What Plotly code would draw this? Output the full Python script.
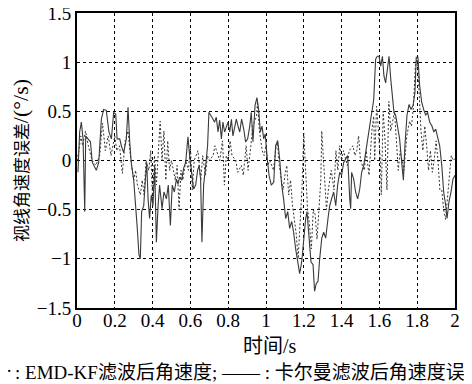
import plotly.graph_objects as go

# Kalman filtered angular-rate error (solid line)
t_kf = [0.005, 0.014, 0.023, 0.032, 0.041, 0.046, 0.058, 0.071, 0.081, 0.102, 0.115, 0.129, 0.141, 0.155,
        0.169, 0.182, 0.194, 0.205, 0.212, 0.226, 0.236, 0.247, 0.261, 0.270, 0.279, 0.287, 0.300, 0.310,
        0.319, 0.328, 0.335, 0.342, 0.353, 0.362, 0.369, 0.376, 0.384, 0.393, 0.402, 0.411, 0.420, 0.429,
        0.437, 0.450, 0.460, 0.473, 0.483, 0.494, 0.504, 0.515, 0.526, 0.534, 0.543, 0.554, 0.564, 0.575,
        0.587, 0.596, 0.605, 0.617, 0.628, 0.638, 0.646, 0.654, 0.661, 0.670, 0.681, 0.691, 0.698, 0.709,
        0.720, 0.728, 0.737, 0.746, 0.755, 0.764, 0.772, 0.781, 0.790, 0.799, 0.808, 0.817, 0.825, 0.834,
        0.843, 0.852, 0.861, 0.871, 0.882, 0.892, 0.903, 0.914, 0.922, 0.931, 0.942, 0.952, 0.961, 0.970,
        0.979, 0.988, 0.996, 1.005, 1.016, 1.028, 1.041, 1.051, 1.062, 1.072, 1.083, 1.093, 1.104, 1.115,
        1.125, 1.136, 1.146, 1.157, 1.168, 1.178, 1.189, 1.199, 1.210, 1.217, 1.228, 1.238, 1.249, 1.257,
        1.266, 1.275, 1.284, 1.295, 1.305, 1.316, 1.328, 1.337, 1.347, 1.358, 1.369, 1.379, 1.390, 1.400,
        1.411, 1.422, 1.432, 1.443, 1.448, 1.453, 1.464, 1.474, 1.485, 1.496, 1.506, 1.517, 1.527, 1.538,
        1.549, 1.559, 1.570, 1.580, 1.589, 1.598, 1.607, 1.616, 1.624, 1.633, 1.642, 1.651, 1.660, 1.668,
        1.677, 1.686, 1.697, 1.707, 1.718, 1.727, 1.735, 1.746, 1.757, 1.767, 1.778, 1.788, 1.795, 1.804,
        1.813, 1.824, 1.834, 1.845, 1.855, 1.866, 1.878, 1.888, 1.898, 1.912, 1.919, 1.930, 1.940, 1.951,
        1.958, 1.968, 1.979, 1.989, 2.0]
v_kf = [-0.12, 0.29, 0.39, 0.22, -0.52, 0.25, 0.22, 0.19, -0.02, -0.10, -0.02, 0.42, 0.52, 0.51,
        0.29, 0.22, 0.49, 0.47, 0.22, 0.22, 0.14, 0.08, 0.22, 0.54, 0.19, -0.02, -0.20, -0.52,
        -0.69, -0.96, -1.0, -0.52, -0.46, -0.19, -0.02, -0.39, -0.59, -0.35, -0.46, -0.05, -0.83, -0.46,
        -0.25, -0.49, -0.32, -0.39, -0.25, -0.66, -0.25, -0.32, -0.19, -0.24, -0.17, -0.20, -0.08, -0.02,
        0.24, 0.05, -0.12, -0.29, -0.25, -0.10, -0.05, -0.19, -0.83, -0.25, -0.05, 0.15, 0.49, 0.46,
        0.42, 0.39, 0.44, 0.29, 0.41, 0.22, 0.39, 0.29, 0.35, 0.39, 0.29, 0.42, 0.25, 0.34,
        0.42, 0.35, 0.29, 0.42, 0.32, 0.19, 0.22, 0.35, 0.49, 0.19, 0.56, 0.64, 0.52, 0.29,
        0.35, 0.22, 0.27, 0.05, -0.15, -0.25, -0.22, 0.15, 0.20, 0.02, -0.25, -0.39, -0.59, -0.52,
        -0.69, -0.62, -0.73, -0.90, -1.03, -1.15, -1.03, -0.79, -0.59, -0.52, -0.76, -1.03, -1.06, -1.33,
        -1.25, -1.23, -1.0, -0.79, -0.73, -0.79, -0.59, -0.46, -0.39, -0.32, -0.46, -0.25, -0.12, -0.15,
        -0.02, 0.02, 0.05, -0.39, -0.49, -0.12, -0.19, -0.32, -0.39, -0.29, -0.12, -0.05, 0.08, 0.19,
        0.32, 0.46, 0.62, 1.03, 1.06, 1.06, 0.96, 1.06, 0.86, 0.79, 0.93, 1.06, 0.83, 0.69,
        0.49, 0.46, 0.35, 0.22, -0.02, -0.20, 0.15, 0.46, 0.57, 0.52, 0.56, 0.69, 1.05, 1.05,
        0.76, 0.59, 0.52, 0.46, 0.49, 0.39, 0.35, 0.29, 0.32, 0.22, 0.15, -0.05, -0.32, -0.46,
        -0.59, -0.42, -0.32, -0.19, -0.15]

# EMD-KF filtered angular-rate error (dotted line)
t_emd = [0.0, 0.01, 0.02, 0.03, 0.045, 0.06, 0.08, 0.10, 0.12, 0.135, 0.15, 0.165, 0.18, 0.2, 0.21,
         0.225, 0.24, 0.255, 0.27, 0.285, 0.30, 0.31, 0.32, 0.335, 0.345, 0.355, 0.365, 0.38, 0.39,
         0.40, 0.41, 0.42, 0.44, 0.45, 0.46, 0.47, 0.48, 0.49, 0.50, 0.52, 0.53, 0.54, 0.55, 0.56,
         0.575, 0.59, 0.60, 0.61, 0.62, 0.64, 0.655, 0.665, 0.68, 0.69, 0.70, 0.72, 0.73, 0.745,
         0.755, 0.77, 0.78, 0.79, 0.80, 0.81, 0.82, 0.84, 0.85, 0.87, 0.88, 0.895, 0.905, 0.92,
         0.93, 0.94, 0.95, 0.955, 0.965, 0.98, 0.99, 1.0, 1.01, 1.02, 1.04, 1.05, 1.06, 1.07, 1.08,
         1.09, 1.10, 1.11, 1.12, 1.13, 1.14, 1.15, 1.16, 1.17, 1.18, 1.19, 1.20, 1.21, 1.22, 1.23,
         1.24, 1.25, 1.26, 1.27, 1.28, 1.29, 1.295, 1.31, 1.32, 1.33, 1.345, 1.36, 1.37, 1.38, 1.39,
         1.40, 1.41, 1.43, 1.44, 1.46, 1.47, 1.48, 1.49, 1.50, 1.52, 1.53, 1.545, 1.56, 1.57, 1.575,
         1.585, 1.595, 1.605, 1.61, 1.62, 1.63, 1.64, 1.65, 1.66, 1.67, 1.68, 1.69, 1.70, 1.71, 1.72,
         1.73, 1.745, 1.76, 1.77, 1.78, 1.79, 1.80, 1.81, 1.82, 1.83, 1.84, 1.85, 1.86, 1.87, 1.88,
         1.89, 1.90, 1.91, 1.92, 1.93, 1.94, 1.95, 1.96, 1.97, 1.98, 1.99, 2.0]
v_emd = [0.0, 0.1, 0.25, 0.15, 0.30, 0.15, 0.0, -0.05, 0.05, 0.38, 0.1, 0.25, 0.05, 0.25, 0.1,
         0.15, -0.13, 0.2, 0.3, 0.0, -0.2, -0.1, -0.25, -0.35, -0.2, -0.35, 0.0, -0.1, 0.1,
         -0.4, 0.05, -0.25, 0.4, 0.0, 0.3, -0.2, 0.2, -0.1, 0.0, -0.2, -0.05, -0.5, -0.1, -0.2,
         0.0, -0.1, 0.15, -0.3, 0.0, 0.1, -0.2, 0.05, -0.15, 0.05, 0.0, 0.05, 0.15, 0.05,
         0.0, 0.2, -0.25, 0.05, 0.0, 0.2, 0.05, 0.0, -0.12, -0.05, -0.15, 0.15, -0.1, 0.15,
         0.35, 0.4, 0.45, 0.6, 0.3, 0.1, 0.05, 0.15, -0.05, 0.0, -0.1, 0.1, 0.2, -0.05, -0.2,
         -0.3, -0.15, -0.05, -0.35, -0.2, -0.45, -0.6, -0.75, -1.0, -0.7, -0.3, 0.28, -0.2, -0.5, -0.65,
         -0.9, -0.5, -0.55, -0.8, -0.5, -0.2, 0.3, -0.2, -0.5, -0.3, -0.1, -0.3, 0.1, -0.1, 0.15,
         0.0, 0.1, -0.05, 0.1, 0.15, 0.05, 0.1, 0.25, 0.0, -0.1, 0.1, -0.15, 0.3, 0.45, 0.0,
         0.55, 0.3, 0.0, -0.35, 0.5, 0.2, -0.3, 0.6, 0.3, 0.4, 0.5, 0.2, -0.1, 0.1, 0.0,
         -0.1, 0.25, 0.4, 0.35, 0.55, 0.95, 1.05, 0.7, 0.3, 0.1, 0.35, 0.15, -0.1, 0.1, -0.12,
         0.0, 0.2, 0.0, -0.3, -0.3, -0.5, -0.6, -0.4, -0.2, 0.05, 0.0, 0.02]

x_ticks = [0, 0.2, 0.4, 0.6, 0.8, 1, 1.2, 1.4, 1.6, 1.8, 2]
x_tick_text = ["0", "0.2", "0.4", "0.6", "0.8", "1", "1.2", "1.4", "1.6", "1.8", "2"]
y_ticks = [-1.5, -1, -0.5, 0, 0.5, 1, 1.5]
y_tick_text = ["\u22121.5", "\u22121", "\u22120.5", "0", "0.5", "1", "1.5"]

serif = "Liberation Serif"
cjk = "Noto Sans CJK SC"
PAGE = 8  # default page body margin of the html page

fig = go.Figure()
fig.add_trace(go.Scatter(x=t_emd, y=v_emd, mode="lines",
                         line=dict(color="#333333", width=1, dash="2px,2px"), showlegend=False))
fig.add_trace(go.Scatter(x=t_kf, y=v_kf, mode="lines",
                         line=dict(color="#3a3a3a", width=1.1), showlegend=False))

fig.update_layout(
    width=472, height=384,
    margin=dict(l=77 - PAGE, r=17 + PAGE, t=13 - PAGE, b=76 + PAGE, autoexpand=False),
    paper_bgcolor="white", plot_bgcolor="white",
    showlegend=False,
    font=dict(family=serif, size=18, color="black"),
)
fig.update_xaxes(range=[0, 2], tickvals=x_ticks, ticktext=x_tick_text, automargin=False,
                 showline=True, linecolor="black", linewidth=2, mirror=True,
                 showgrid=True, gridcolor="black", gridwidth=1, griddash="3px,3px",
                 zeroline=False, ticks="", ticklen=0, tickfont=dict(family=serif, size=19),
                 ticklabeloverflow="allow", ticklabelstandoff=-6)
fig.update_yaxes(range=[-1.5, 1.5], tickvals=y_ticks, ticktext=y_tick_text, automargin=False,
                 showline=True, linecolor="black", linewidth=2, mirror=True,
                 showgrid=True, gridcolor="black", gridwidth=1, griddash="3px,3px",
                 zeroline=False, ticks="", ticklen=0, tickfont=dict(family=serif, size=19),
                 ticklabeloverflow="allow",
                 title=dict(text="视线角速度误差<span style='font-family:Liberation Serif;font-size:22px'>/(°/s)</span>",
                            font=dict(family=cjk, size=17), standoff=4))

# plot area in page pixels: x 77..455, y 13..308
def px_x(p):
    return (p - 77) / 378

def px_y(p):
    return (308 - p) / 295

# x-axis title
fig.add_annotation(xref="paper", yref="paper", x=px_x(270), y=px_y(344),
                   xanchor="center", yanchor="middle", showarrow=False,
                   text="时间<span style='font-family:Liberation Serif'>/s</span>",
                   font=dict(family=cjk, size=20, color="black"))

# legend-like caption line (cut off at both edges as in the reference)
cap_y = px_y(370)
fig.add_annotation(xref="paper", yref="paper", x=px_x(14), y=cap_y,
                   xanchor="right", yanchor="middle", showarrow=False,
                   text="··········", font=dict(family=serif, size=19, color="black"))
fig.add_annotation(xref="paper", yref="paper", x=px_x(13), y=cap_y,
                   xanchor="left", yanchor="middle", showarrow=False,
                   text=": EMD-KF<span style='font-family:Noto Sans CJK SC'>滤波后角速度</span>; —— : <span style='font-family:Noto Sans CJK SC'>卡尔曼滤波后角速度误差</span>",
                   font=dict(family=serif, size=19, color="black"))

fig.write_html("out.html")
